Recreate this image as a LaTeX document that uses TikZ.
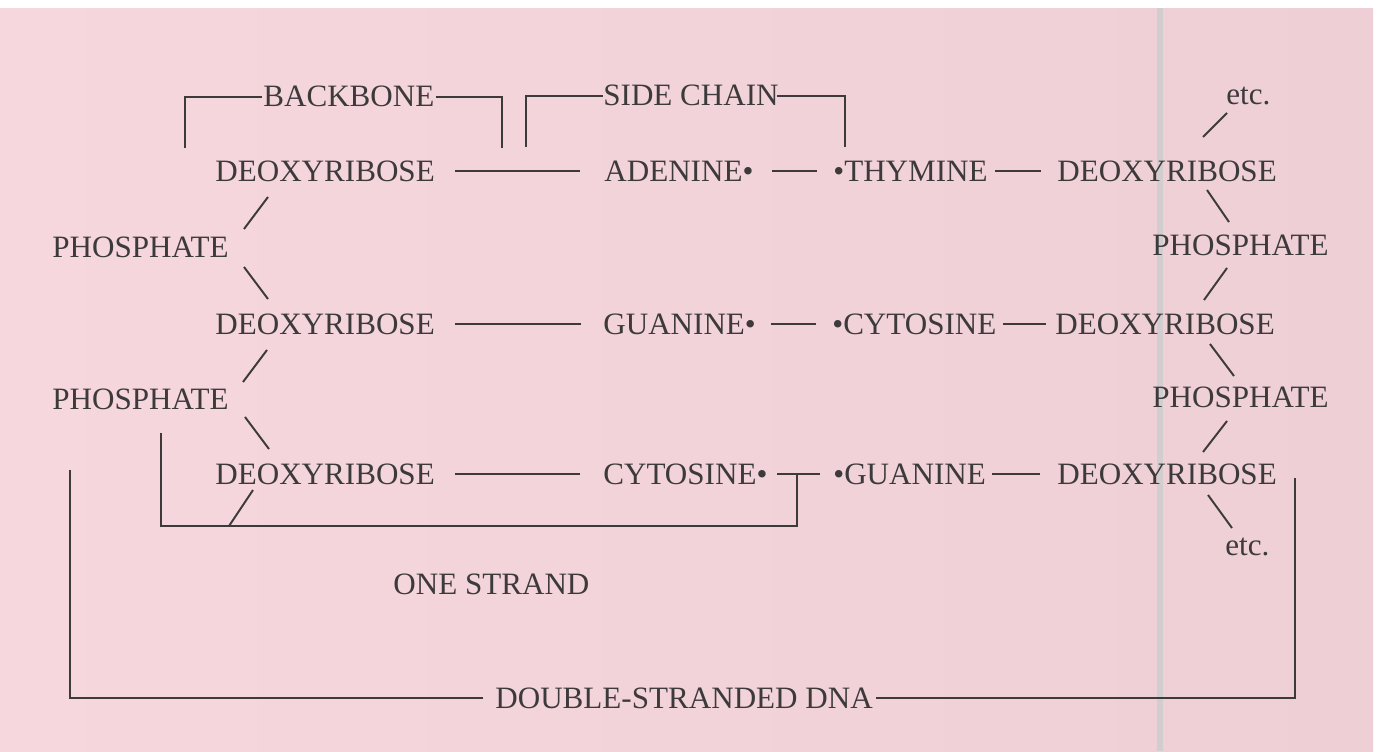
\documentclass[tikz,border=0pt]{standalone}
\usepackage{fontspec}
\setmainfont{Liberation Serif}
\usetikzlibrary{calc}
\definecolor{paper}{HTML}{F6D7DE}
\definecolor{paperR}{HTML}{EECFD6}
\definecolor{ink}{HTML}{3C3A3B}
\definecolor{fold}{HTML}{D2CDCF}
\begin{document}
\begin{tikzpicture}[x=0.02cm,y=-0.02cm,
  lbl/.style={anchor=west,inner sep=0pt,text=ink,font=\fontsize{17.7}{20}\selectfont},
  bond/.style={draw=ink,line width=1.1pt},
  bracket/.style={draw=ink,line width=1.1pt}]
\useasboundingbox (0,0) rectangle (1378,751);
\fill[white] (0,0) rectangle (1378,751);
\shade[left color=paper,right color=paperR] (0,8) rectangle (1373,751);
\fill[fold] (1157,8) rectangle (1163,751);

% rows
\node[lbl] (d1) at (215,171) {DEOXYRIBOSE};
\node[lbl] (a1) at (604,171) {ADENINE•};
\node[lbl] (t1) at (833,171) {•THYMINE};
\node[lbl] (r1) at (1057,171) {DEOXYRIBOSE};
\node[lbl] (d2) at (215,324) {DEOXYRIBOSE};
\node[lbl] (g2) at (603,324) {GUANINE•};
\node[lbl] (c2) at (832,324) {•CYTOSINE};
\node[lbl] (r2) at (1055,324) {DEOXYRIBOSE};
\node[lbl] (d3) at (215,474) {DEOXYRIBOSE};
\node[lbl] (c3) at (603,474) {CYTOSINE•};
\node[lbl] (g3) at (833,474) {•GUANINE};
\node[lbl] (r3) at (1057,474) {DEOXYRIBOSE};
\node[lbl] (p1) at (52,247) {PHOSPHATE};
\node[lbl] (p2) at (52,399) {PHOSPHATE};
\node[lbl] (q1) at (1152,245) {PHOSPHATE};
\node[lbl] (q2) at (1152,397) {PHOSPHATE};
\node[lbl] (e1) at (1226,96) {etc.};
\node[lbl] (e2) at (1225,547) {etc.};
\node[lbl] (bb) at (263,96) {BACKBONE};
\node[lbl] (sc) at (603,95) {SIDE CHAIN};
\node[lbl] (os) at (393,584) {ONE STRAND};
\node[lbl] (ds) at (495,698) {DOUBLE-STRANDED DNA};

% horizontal bonds
\draw[bond] ($(d1.west)+(240,0)$) -- ($(a1.west)+(-24,0)$);
\draw[bond] ($(a1.west)+(168,0)$) -- ($(t1.west)+(-16,0)$);
\draw[bond] ($(t1.west)+(162,0)$) -- ($(r1.west)+(-16,0)$);
\draw[bond] ($(d2.west)+(240,0)$) -- ($(g2.west)+(-22,0)$);
\draw[bond] ($(g2.west)+(168,0)$) -- ($(c2.west)+(-16,0)$);
\draw[bond] ($(c2.west)+(171,0)$) -- ($(r2.west)+(-9,0)$);
\draw[bond] ($(d3.west)+(240,0)$) -- ($(c3.west)+(-23,0)$);
\draw[bond] ($(c3.west)+(174,0)$) -- ($(g3.west)+(-13,0)$);
\draw[bond] ($(g3.west)+(159,0)$) -- ($(r3.west)+(-17,0)$);

% left backbone slashes
\draw[bond] ($(d1.west)+(53,26)$) -- ($(p1.west)+(192,-18)$);
\draw[bond] ($(p1.west)+(192,20)$) -- ($(d2.west)+(53,-25)$);
\draw[bond] ($(d2.west)+(52,26)$) -- ($(p2.west)+(191,-17)$);
\draw[bond] ($(p2.west)+(193,18)$) -- ($(d3.west)+(54,-25)$);
\coordinate (osK) at (229,526);
\draw[bond] ($(d3.west)+(38,16)$) -- (osK);

% right backbone slashes
\draw[bond] ($(e1.west)+(1,17)$) -- ($(r1.west)+(146,-34)$);
\draw[bond] ($(r1.west)+(150,19)$) -- ($(q1.west)+(77,-23)$);
\draw[bond] ($(q1.west)+(75,23)$) -- ($(r2.west)+(149,-24)$);
\draw[bond] ($(r2.west)+(155,20)$) -- ($(q2.west)+(82,-21)$);
\draw[bond] ($(q2.west)+(75,24)$) -- ($(r3.west)+(146,-22)$);
\draw[bond] ($(r3.west)+(151,21)$) -- ($(e2.west)+(7,-19)$);

% brackets
\coordinate (bbL) at (185,148);
\coordinate (bbR) at (502,148);
\draw[bracket] ($(bb.west)+(-1,1)$) -| (bbL);
\draw[bracket] ($(bb.east)+(1,1)$) -| (bbR);
\coordinate (scL) at (526,147);
\coordinate (scR) at (845,147);
\draw[bracket] ($(sc.west)+(0,1)$) -| (scL);
\draw[bracket] ($(sc.east)+(-2,1)$) -| (scR);
\coordinate (osT) at (161,433);
\coordinate (osB1) at (161,526);
\coordinate (osB2) at (797,526);
\coordinate (osJ) at ($(c3.west)+(194,0)$);
\draw[bracket] (osT) -- (osB1) -- (osB2) -- (osJ);
\coordinate (dsL) at (70,470);
\coordinate (dsR) at (1295,478);
\draw[bracket] ($(ds.west)+(-12,0)$) -| (dsL);
\draw[bracket] ($(ds.east)+(3,0)$) -| (dsR);
\end{tikzpicture}
\end{document}
